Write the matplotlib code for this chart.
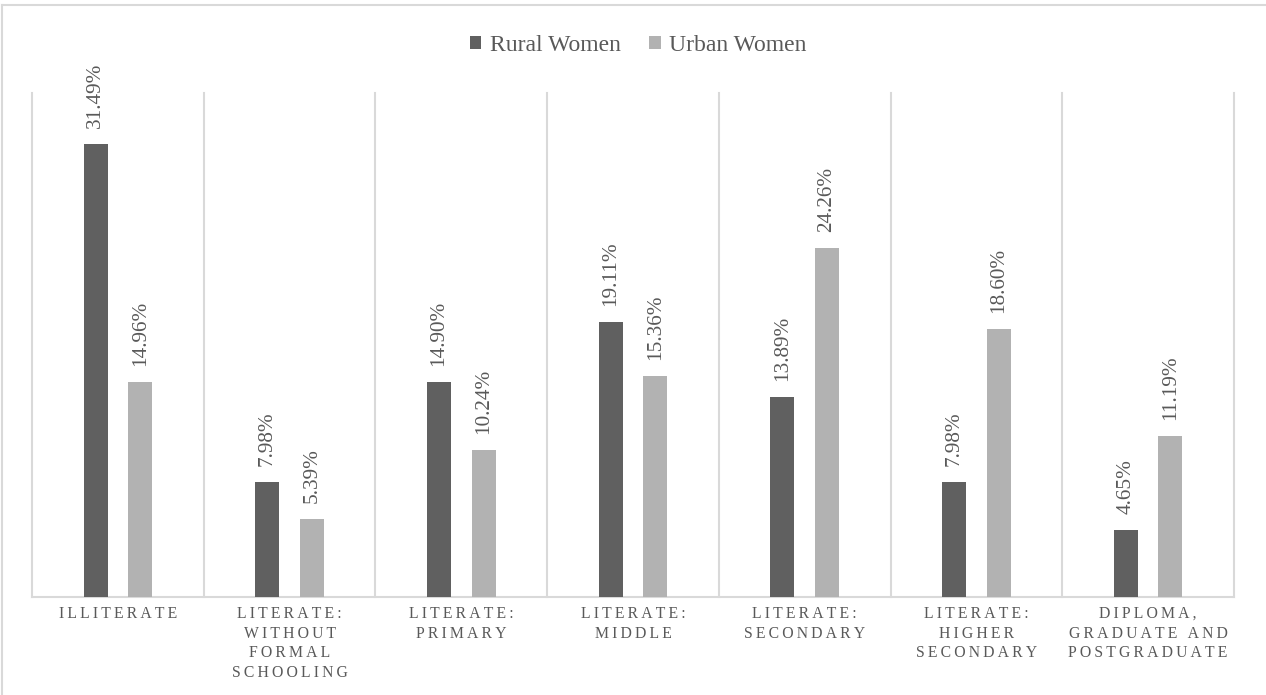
import numpy as np
import matplotlib
matplotlib.use("Agg")
import matplotlib.pyplot as plt
from matplotlib.lines import Line2D

# share of women by education level
categories = ["ILLITERATE",
              "LITERATE:\nWITHOUT\nFORMAL\nSCHOOLING",
              "LITERATE:\nPRIMARY",
              "LITERATE:\nMIDDLE",
              "LITERATE:\nSECONDARY",
              "LITERATE:\nHIGHER\nSECONDARY",
              "DIPLOMA,\nGRADUATE AND\nPOSTGRADUATE"]
rural = [31.49, 7.98, 14.90, 19.11, 13.89, 7.98, 4.65]
urban = [14.96, 5.39, 10.24, 15.36, 24.26, 18.60, 11.19]

DARK = "#606060"
LIGHT = "#b2b2b2"
TEXT = "#595959"
GRID = "#d9d9d9"

plt.rcParams['font.family'] = ['Liberation Serif', 'DejaVu Serif']


def spaced(label):
    # letter-spaced caps, done with thin spaces between characters
    lines = []
    for line in label.split("\n"):
        lines.append("\u2009".join(line))
    return "\n".join(lines)


fig = plt.figure(figsize=(12.66, 6.95), dpi=100)
ax = fig.add_axes([32 / 1266, 1 - 597 / 695, 1202 / 1266, 504 / 695])

x = np.arange(len(categories))
w = 0.14
off = 0.13
b1 = ax.bar(x - off, rural, w, color=DARK, label="Rural Women", zorder=3)
b2 = ax.bar(x + off, urban, w, color=LIGHT, label="Urban Women", zorder=3)

for bars, vals in ((b1, rural), (b2, urban)):
    for rect, v in zip(bars, vals):
        ax.annotate("%.2f%%" % v, (rect.get_x() + rect.get_width() / 2, v),
                    xytext=(0, 11.5), textcoords="offset points",
                    rotation=90, ha="center", va="bottom",
                    fontsize=15.3, color=TEXT)

ax.set_xlim(-0.5, len(categories) - 0.5)
ax.set_ylim(0, 35)
ax.set_yticks([])
ax.set_xticks(x)
ax.set_xticklabels([spaced(c) for c in categories], fontsize=11.3,
                   color=TEXT, linespacing=1.3)
ax.tick_params(axis="x", length=0, pad=6.5)

for s in ["top", "left", "right"]:
    ax.spines[s].set_visible(False)
ax.spines["bottom"].set_color(GRID)
ax.spines["bottom"].set_linewidth(1.5)

# category separators
for b in np.arange(-0.5, len(categories), 1.0):
    ax.axvline(b, color=GRID, lw=1.5, zorder=1, clip_on=False)

fig.legend(loc="center", bbox_to_anchor=(638 / 1266, 1 - 45.5 / 695), ncol=2,
           frameon=False, fontsize=17, labelcolor=TEXT,
           handlelength=0.5, handleheight=0.5, handletextpad=0.35,
           columnspacing=1.2)

# chart frame
fig.add_artist(Line2D([2 / 1266, 1.0], [1 - 5 / 695, 1 - 5 / 695],
                      transform=fig.transFigure, color=GRID, lw=1.5))
fig.add_artist(Line2D([2 / 1266, 2 / 1266], [0.0, 1 - 5 / 695],
                      transform=fig.transFigure, color=GRID, lw=1.5))

fig.savefig("out.png", dpi=100)
